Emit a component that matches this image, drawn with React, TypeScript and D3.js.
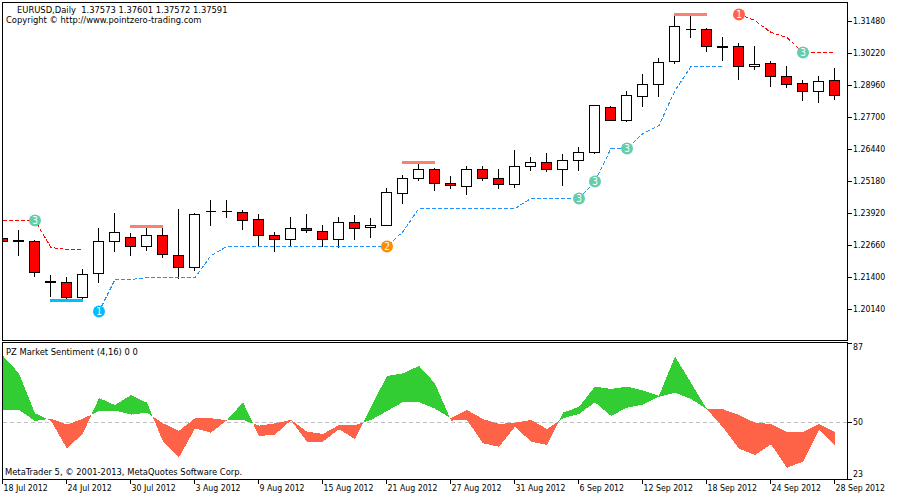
import { useEffect, useRef } from 'react';
import * as d3 from 'd3';

const WIDTH = 900;
const HEIGHT = 500;
const FONT = '"DejaVu Sans Condensed", "DejaVu Sans", sans-serif';
const FONT_SIZE = 9.3;
const AXIS_FONT_SIZE = 8.7;

// EURUSD daily bars
const opens = [
  1.22936, 1.22857, 1.22818, 1.21242, 1.21203, 1.20613, 1.21558, 1.22818, 1.22975, 1.22621,
  1.23054, 1.22266, 1.21794, 1.23999, 1.23999, 1.23959, 1.23684, 1.23054, 1.22896, 1.23329,
  1.23211, 1.22896, 1.23566, 1.23369, 1.23447, 1.24707, 1.25298, 1.25653, 1.25101, 1.24983,
  1.25653, 1.25298, 1.25062, 1.25771, 1.25928, 1.25653, 1.26007, 1.26322, 1.28094, 1.27582,
  1.28527, 1.28999, 1.29905, 1.31165, 1.31165, 1.30496, 1.30496, 1.29708, 1.29826, 1.29314,
  1.29039, 1.28724, 1.29157,
];
const highs = [
  1.22936, 1.23251, 1.22857, 1.21479, 1.214, 1.21715, 1.23329, 1.2392, 1.23133, 1.23369,
  1.23408, 1.24078, 1.2392, 1.24432, 1.24432, 1.24038, 1.23881, 1.23172, 1.23763, 1.23881,
  1.23447, 1.23763, 1.23841, 1.23723, 1.24904, 1.25416, 1.25928, 1.25692, 1.25377, 1.25771,
  1.25771, 1.25653, 1.26401, 1.26125, 1.26283, 1.26243, 1.26519, 1.28173, 1.28133, 1.28724,
  1.29393, 1.30023, 1.31756, 1.31756, 1.31204, 1.3085, 1.30614, 1.30496, 1.29905, 1.29708,
  1.29157, 1.29314, 1.29629,
];
const lows = [
  1.22818, 1.22266, 1.2144, 1.20652, 1.20455, 1.20494, 1.21203, 1.22424, 1.22266, 1.22463,
  1.22188, 1.21361, 1.21676, 1.23447, 1.23763, 1.2329, 1.2266, 1.22424, 1.22621, 1.23172,
  1.22621, 1.22581, 1.22896, 1.22975, 1.23447, 1.24314, 1.25219, 1.24826, 1.24904, 1.24668,
  1.25219, 1.24904, 1.24944, 1.25613, 1.25574, 1.25022, 1.25613, 1.26283, 1.27582, 1.27542,
  1.28133, 1.28527, 1.29826, 1.3085, 1.30299, 1.29944, 1.29196, 1.2959, 1.28921, 1.28881,
  1.28369, 1.28291, 1.28409,
];
const closes = [
  1.22818, 1.22818, 1.21597, 1.21203, 1.20613, 1.21518, 1.22818, 1.23172, 1.22621, 1.23054,
  1.22306, 1.21794, 1.23881, 1.23999, 1.23999, 1.23644, 1.23054, 1.22896, 1.23329, 1.23251,
  1.22896, 1.23566, 1.23329, 1.23447, 1.24747, 1.25298, 1.25653, 1.25101, 1.25022, 1.25653,
  1.25298, 1.25062, 1.25771, 1.25928, 1.25653, 1.26007, 1.26322, 1.28173, 1.27582, 1.28566,
  1.28999, 1.29866, 1.31283, 1.31165, 1.30496, 1.30456, 1.29708, 1.29787, 1.29314, 1.28999,
  1.28724, 1.29118, 1.28566,
];

// trailing stop lines, one value per bar, null where the line is absent
const n = null;
const stopUp = [
  n, n, n, n, n, n, 1.20061, 1.21321, 1.21321, 1.214,
  1.214, 1.214, 1.214, 1.22266, 1.22621, 1.22621, 1.22621, 1.22621, 1.22621, 1.22621,
  1.22621, 1.22621, 1.22621, 1.22621, 1.22621, 1.23211, 1.24117, 1.24117, 1.24117, 1.24117,
  1.24117, 1.24117, 1.24117, 1.24511, 1.24511, 1.24511, 1.24511, 1.2518, 1.26479, 1.26479,
  1.2707, 1.27385, 1.28763, 1.29708, 1.29708, 1.29708, n, n, n, n, n, n, n,
];
const stopDown = [
  1.23644, 1.23644, 1.23644, 1.22581, 1.22503, 1.22503, n, n, n, n,
  n, n, n, n, n, n, n, n, n, n,
  n, n, n, n, n, n, n, n, n, n,
  n, n, n, n, n, n, n, n, n, n,
  n, n, n, n, n, n, 1.31756, 1.31519, 1.31047, 1.3085,
  1.30259, 1.30259, 1.30259,
];

// signal markers: bar index and label
const upSignalBars = [6, 24, 36, 37, 39];
const upSignalLabels = ['1', '2', '3', '3', '3'];
const downSignalBars = [2, 46, 50];
const downSignalLabels = ['3', '1', '3'];

// swing extremes: first bar, last bar, price
const supportBars = [[3, 5, 1.20494]];
const resistanceBars = [
  [8, 10, 1.23408],
  [25, 27, 1.25928],
  [42, 44, 1.31756],
];

// PZ Market Sentiment
const fast = [
  80.9, 72.7, 53.9, 50.4, 37.3, 44.5, 61.1, 57.8, 62.5, 58.9,
  40.6, 33.2, 46.8, 44.8, 50.7, 59.1, 43.2, 43.9, 50.6, 40.6,
  40.6, 46.4, 41.8, 57.0, 71.5, 72.7, 76.2, 68.0, 50.5, 50.8,
  39.8, 38.2, 47.6, 40.6, 39.0, 54.2, 57.0, 66.5, 65.4, 66.5,
  64.6, 62.2, 80.6, 68.3, 55.8, 47.3, 37.3, 34.3, 39.3, 28.3,
  31.2, 46.1, 39.0,
];
const slow = [
  55.5, 55.5, 50.3, 51.4, 48.6, 51.4, 55.0, 55.2, 53.3, 54.2,
  49.2, 45.7, 51.6, 51.6, 50.6, 50.8, 48.1, 49.2, 50.8, 45.3,
  44.2, 48.4, 48.4, 50.8, 55.0, 59.2, 59.2, 56.1, 51.6, 55.5,
  51.2, 48.9, 49.5, 50.8, 46.5, 51.6, 53.6, 59.1, 52.7, 56.6,
  58.0, 61.7, 63.6, 60.7, 55.8, 55.8, 53.1, 49.5, 48.9, 45.1,
  45.1, 48.9, 45.1,
];

const priceTicks = [1.3148, 1.3022, 1.2896, 1.277, 1.2644, 1.2518, 1.2392, 1.2266, 1.214, 1.2014];
const sentimentTicks = [87, 50, 23];
const dateTicks = [0, 4, 8, 12, 16, 20, 24, 28, 32, 36, 40, 44, 48, 52];
const dateLabels = [
  '18 Jul 2012', '24 Jul 2012', '30 Jul 2012', '3 Aug 2012', '9 Aug 2012', '15 Aug 2012', '21 Aug 2012',
  '27 Aug 2012', '31 Aug 2012', '6 Sep 2012', '12 Sep 2012', '18 Sep 2012', '24 Sep 2012', '28 Sep 2012',
];

const markerColor = (label: string, up: boolean) => {
  if (label === '3') return '#66cdaa';
  if (label === '2') return '#ff8c00';
  return up ? '#00bfff' : '#ff6347';
};

export default function App() {
  const ref = useRef<SVGSVGElement | null>(null);

  useEffect(() => {
    if (!ref.current) return;
    const svg = d3.select(ref.current);
    svg.selectAll('*').remove();

    const x = d3.scaleLinear().domain([0, 52]).range([2, 834]);
    const y = d3.scaleLinear().domain([1.3148, 1.2014]).range([21, 309]);
    const ySent = d3.scaleLinear().domain([87, 23]).range([343, 479]);
    const row = (v: number) => Math.round(y(v));

    const defs = svg.append('defs');
    defs.append('clipPath').attr('id', 'main').append('rect').attr('x', 3).attr('y', 3).attr('width', 844).attr('height', 337);
    defs.append('clipPath').attr('id', 'sub').append('rect').attr('x', 3).attr('y', 343).attr('width', 844).attr('height', 136);

    svg.append('rect').attr('width', WIDTH).attr('height', HEIGHT).attr('fill', '#fff');

    // main pane
    const main = svg.append('g').attr('clip-path', 'url(#main)').attr('shape-rendering', 'crispEdges');
    const bars = d3.range(opens.length);

    main.selectAll('line.wick').data(bars).enter().append('line')
      .attr('class', 'wick')
      .attr('x1', (i) => x(i) + 0.5).attr('x2', (i) => x(i) + 0.5)
      .attr('y1', (i) => row(highs[i]))
      .attr('y2', (i) => row(lows[i]) + 1)
      .attr('stroke', '#000');

    // a path and not a rect, so that a doji with no height still draws its bar
    main.selectAll('path.body').data(bars).enter().append('path')
      .attr('class', 'body')
      .attr('d', (i) => {
        const top = row(Math.max(opens[i], closes[i])) + 0.5;
        const bottom = row(Math.min(opens[i], closes[i])) + 0.5;
        return `M${x(i) - 4.5},${top}H${x(i) + 5.5}V${bottom}H${x(i) - 4.5}Z`;
      })
      .attr('fill', (i) => (closes[i] < opens[i] ? '#ff0000' : '#fff'))
      .attr('stroke', '#000');

    const stopLine = d3.line<number | null>()
      .defined((d) => d !== null)
      .x((_d, i) => x(i) + 1)
      .y((d) => y(d as number) + 0.5);

    main.append('path').attr('d', stopLine(stopUp)).attr('fill', 'none')
      .attr('stroke', '#1e90ff').attr('stroke-dasharray', '4 2');
    main.append('path').attr('d', stopLine(stopDown)).attr('fill', 'none')
      .attr('stroke', '#ff0000').attr('stroke-dasharray', '4 2');

    const levels = (rows: number[][], color: string) => {
      main.selectAll(null).data(rows).enter().append('line')
        .attr('x1', (d) => x(d[0]))
        .attr('x2', (d) => x(d[1]) + 1)
        .attr('y1', (d) => row(d[2]) + 0.5)
        .attr('y2', (d) => row(d[2]) + 0.5)
        .attr('stroke', color)
        .attr('stroke-width', 3);
    };
    levels(supportBars, '#00bfff');
    levels(resistanceBars, '#fa8072');

    const markers = (barIdx: number[], labels: string[], line: (number | null)[], up: boolean) => {
      barIdx.forEach((b, k) => {
        const g = svg.append('g').attr('transform', `translate(${x(b) + 1},${y(line[b] as number) + 0.5})`);
        g.append('circle').attr('r', 6).attr('fill', markerColor(labels[k], up));
        g.append('text').text(labels[k]).attr('text-anchor', 'middle').attr('y', 3.5)
          .attr('fill', '#fff').attr('font-family', FONT).attr('font-size', 10);
      });
    };
    markers(upSignalBars, upSignalLabels, stopUp, true);
    markers(downSignalBars, downSignalLabels, stopDown, false);

    // indicator pane
    const sub = svg.append('g').attr('clip-path', 'url(#sub)').attr('shape-rendering', 'crispEdges');
    sub.append('line').attr('x1', 3).attr('x2', 847).attr('y1', ySent(50) + 0.5).attr('y2', ySent(50) + 0.5)
      .attr('stroke', '#c0c0c0').attr('stroke-dasharray', '4 3');

    const band = d3.area<{ x: number; a: number; b: number }>()
      .x((d) => d.x)
      .y0((d) => ySent(d.b))
      .y1((d) => ySent(d.a));

    // one polygon per bar gap, split where the two lines cross
    for (let i = 0; i < fast.length - 1; i++) {
      const d0 = fast[i] - slow[i];
      const d1 = fast[i + 1] - slow[i + 1];
      const p0 = { x: x(i) + 1, a: fast[i], b: slow[i] };
      const p1 = { x: x(i + 1) + 1, a: fast[i + 1], b: slow[i + 1] };
      if (d0 * d1 < 0) {
        const t = d0 / (d0 - d1);
        const v = fast[i] + t * (fast[i + 1] - fast[i]);
        const mid = { x: p0.x + t * (p1.x - p0.x), a: v, b: v };
        sub.append('path').attr('d', band([p0, mid])).attr('fill', d0 > 0 ? '#32cd32' : '#ff6347');
        sub.append('path').attr('d', band([mid, p1])).attr('fill', d1 > 0 ? '#32cd32' : '#ff6347');
      } else {
        sub.append('path').attr('d', band([p0, p1])).attr('fill', d0 + d1 >= 0 ? '#32cd32' : '#ff6347');
      }
    }

    // frames
    const frame = svg.append('g').attr('fill', 'none').attr('stroke', '#000').attr('shape-rendering', 'crispEdges');
    frame.append('rect').attr('x', 2.5).attr('y', 2.5).attr('width', 845).attr('height', 338);
    frame.append('rect').attr('x', 2.5).attr('y', 342.5).attr('width', 845).attr('height', 137);

    // axes
    const styleAxis = (g: d3.Selection<SVGGElement, unknown, null, undefined>) => {
      g.select('.domain').remove();
      g.selectAll('line').attr('shape-rendering', 'crispEdges');
      g.selectAll('text').attr('font-family', FONT).attr('font-size', AXIS_FONT_SIZE).attr('fill', '#000');
    };

    const priceAxis = d3.axisRight(y).tickValues(priceTicks).tickSize(5).tickPadding(1)
      .tickFormat((d) => (d as number).toFixed(5));
    svg.append('g').attr('transform', 'translate(847,0)').call(priceAxis).call(styleAxis);

    const sentAxis = d3.axisRight(ySent).tickValues(sentimentTicks).tickSize(5).tickPadding(1)
      .tickFormat((d) => String(d));
    const sentG = svg.append('g').attr('transform', 'translate(847,0)').call(sentAxis).call(styleAxis);
    sentG.selectAll<SVGTextElement, number>('text').attr('y', (d) => (d === 87 ? 4 : d === 23 ? -5 : 0));

    const dateAxis = d3.axisBottom(x).tickValues(dateTicks).tickSize(5).tickPadding(1)
      .tickFormat((_d, k) => dateLabels[k]);
    const dateG = svg.append('g').attr('transform', 'translate(0,479)').call(dateAxis).call(styleAxis);
    dateG.selectAll('text').attr('text-anchor', 'start').attr('x', 1).attr('y', 6).attr('dy', '0.71em');

    // captions
    const caption = (txt: string, px: number, py: number) =>
      svg.append('text').text(txt).attr('x', px).attr('y', py).attr('font-family', FONT).attr('font-size', FONT_SIZE).attr('fill', '#000').attr('xml:space', 'preserve');
    caption('EURUSD,Daily  1.37573 1.37601 1.37572 1.37591', 17, 13);
    caption('Copyright © http://www.pointzero-trading.com', 6, 23);
    caption('PZ Market Sentiment (4,16) 0 0', 6, 355);
    caption('MetaTrader 5, © 2001-2013, MetaQuotes Software Corp.', 5, 475);
  }, []);

  return (
    <svg
      ref={ref}
      width={WIDTH}
      height={HEIGHT}
      style={{ position: 'absolute', left: 0, top: 0 }}
    />
  );
}
